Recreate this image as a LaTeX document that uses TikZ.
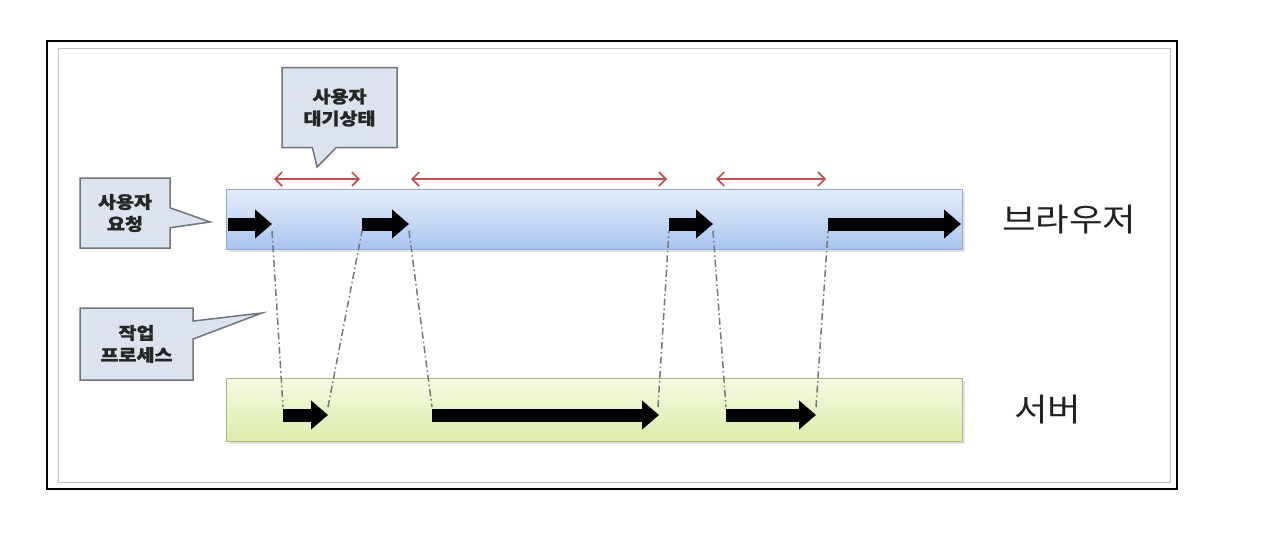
\documentclass[tikz,border=0pt]{standalone}
\usepackage{fontspec}
\newfontfamily\cjkwide[FakeStretch=1.14]{Noto Sans CJK KR}
\newfontfamily\cjkcall[FakeStretch=1.15,BoldFeatures={FakeBold=1.2}]{Noto Sans CJK KR}
\usetikzlibrary{arrows.meta,shapes.callouts,shadows}
\definecolor{barblueT}{HTML}{E4EDFB}
\definecolor{barblueB}{HTML}{A9C4F0}
\definecolor{barblueD}{HTML}{8FA8CF}
\definecolor{bargreenT}{HTML}{F5FAE2}
\definecolor{bargreenB}{HTML}{DCEDAA}
\definecolor{bargreenD}{HTML}{A9B58A}
\definecolor{callfill}{HTML}{DCE3EE}
\definecolor{callline}{HTML}{6F757F}
\definecolor{waitred}{HTML}{C0504D}
\definecolor{linkgray}{HTML}{767878}
\definecolor{labeltext}{HTML}{222222}
\tikzset{
  bar/.style={draw, line width=1.2pt, minimum width=736pt, minimum height=60pt, anchor=north west, inner sep=0pt,
    drop shadow={opacity=0.2, shadow xshift=2pt, shadow yshift=-2pt}},
  bigarrow/.style={line width=13pt, -{Triangle[length=17pt,width=28pt]}, black},
  waitarrow/.style={waitred, line width=1.6pt, {Straight Barb[length=7pt,width=14pt]}-{Straight Barb[length=7pt,width=14pt]}},
  linkline/.style={linkgray, line width=1.5pt, dash pattern=on 7pt off 3pt on 1.5pt off 3pt},
  callbox/.style={rectangle callout, draw=callline, fill=callfill, line width=1.5pt, align=center,
    callout pointer width=24pt, inner sep=0pt, text=black!85,
    font=\cjkcall\bfseries\fontsize{17}{22}\selectfont},
  sidelabel/.style={anchor=west, text=labeltext, font=\cjkwide\fontsize{32}{36}\selectfont, inner sep=0pt}
}
\begin{document}
\begin{tikzpicture}[x=1pt,y=-1pt]
\useasboundingbox (0,0) rectangle (1264,550);
\fill[white] (0,0) rectangle (1264,550);
% frames
\node[draw=black!25, line width=1.2pt, minimum width=1112pt, minimum height=434pt, anchor=north west, inner sep=0pt] (inner) at (58,48) {};
\node[draw=black, line width=1.6pt, minimum width=1130pt, minimum height=448pt, anchor=north west, inner sep=0pt] (outer) at (46,40) {};
% bars
\node[bar, draw=barblueD, top color=barblueT, bottom color=barblueB] (browser) at (226,189) {};
\node[bar, draw=bargreenD, top color=bargreenT, bottom color=bargreenB, minimum height=63pt] (server) at (226,378) {};
% labels
\node[sidelabel] (blabel) at (1002,220) {브라우저};
\node[sidelabel] (slabel) at (1014,410) {서버};
% coordinates of arrows
\coordinate (b1s) at (228,224); \coordinate (b1e) at (272,224);
\coordinate (b2s) at (362,224); \coordinate (b2e) at (409,224);
\coordinate (b3s) at (669,224); \coordinate (b3e) at (713,224);
\coordinate (b4s) at (828,224); \coordinate (b4e) at (961,224);
\coordinate (s1s) at (283,415); \coordinate (s1e) at (328,415);
\coordinate (s2s) at (432,415); \coordinate (s2e) at (659,415);
\coordinate (s3s) at (726,415); \coordinate (s3e) at (816,415);
% link points
\coordinate (l1a) at (272,231); \coordinate (l1b) at (283,407);
\coordinate (l2a) at (328,407); \coordinate (l2b) at (362,231);
\coordinate (l3a) at (409,231); \coordinate (l3b) at (432,407);
\coordinate (l4a) at (658,407); \coordinate (l4b) at (669,231);
\coordinate (l5a) at (713,231); \coordinate (l5b) at (726,407);
\coordinate (l6a) at (816,407); \coordinate (l6b) at (828,231);
% dash-dot links
\draw[linkline] (l1a) -- (l1b);
\draw[linkline] (l2a) -- (l2b);
\draw[linkline] (l3a) -- (l3b);
\draw[linkline] (l4a) -- (l4b);
\draw[linkline] (l5a) -- (l5b);
\draw[linkline] (l6a) -- (l6b);
% big arrows
\draw[bigarrow] (b1s) -- (b1e);
\draw[bigarrow] (b2s) -- (b2e);
\draw[bigarrow] (b3s) -- (b3e);
\draw[bigarrow] (b4s) -- (b4e);
\draw[bigarrow] (s1s) -- (s1e);
\draw[bigarrow] (s2s) -- (s2e);
\draw[bigarrow] (s3s) -- (s3e);
% waiting arrows
\coordinate (w1a) at (274,179); \coordinate (w1b) at (360,179);
\coordinate (w2a) at (411,179); \coordinate (w2b) at (667,179);
\coordinate (w3a) at (716,179); \coordinate (w3b) at (826,179);
\draw[waitarrow] (w1a) -- (w1b);
\draw[waitarrow] (w2a) -- (w2b);
\draw[waitarrow] (w3a) -- (w3b);
% callouts
\coordinate (p1) at (317,167);
\coordinate (p2) at (210,222);
\coordinate (p3) at (262,313);
\node[callbox, minimum width=115pt, minimum height=80pt, callout absolute pointer={(p1)}] (waitcall) at (339.5,107.5) {사용자\\대기상태};
\node[callbox, minimum width=90pt, minimum height=70pt, callout absolute pointer={(p2)}, callout pointer width=20pt] (reqcall) at (125,213) {사용자\\요청};
\node[callbox, minimum width=113pt, minimum height=72pt, callout absolute pointer={(p3)}, callout pointer width=18pt] (proccall) at (136.5,344) {작업\\프로세스};
\end{tikzpicture}
\end{document}
